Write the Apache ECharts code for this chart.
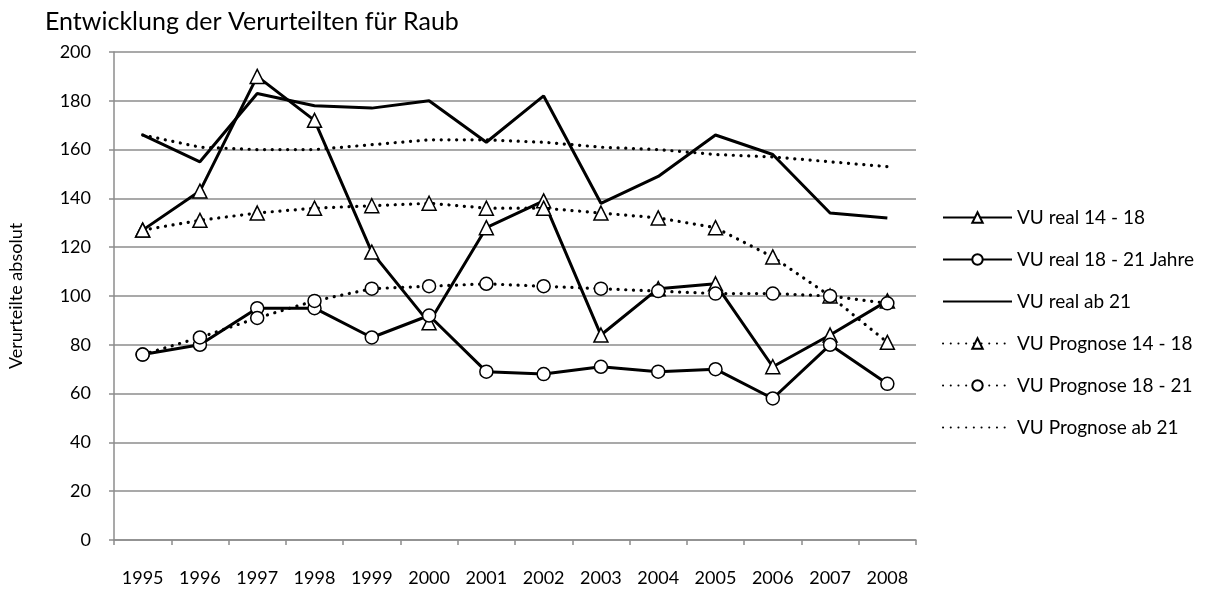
<!DOCTYPE html>
<html>
<head>
<meta charset="utf-8">
<script src="https://cdn.jsdelivr.net/npm/echarts@6/dist/echarts.min.js"></script>
<style>
  html, body { margin: 0; padding: 0; background: #fff; }
  #chart { width: 1232px; height: 598px; }
</style>
</head>
<body>
<div id="chart"></div>
<script>
"use strict";

/* ── Daten ── */
const years = ["1995", "1996", "1997", "1998", "1999", "2000", "2001", "2002", "2003", "2004", "2005", "2006", "2007", "2008"];
const real1418  = [127, 143, 190, 172, 118, 89, 128, 139, 84, 103, 105, 71, 84, 98];
const real1821  = [76, 80, 95, 95, 83, 92, 69, 68, 71, 69, 70, 58, 80, 64];
const realAb21  = [166, 155, 183, 178, 177, 180, 163, 182, 138, 149, 166, 158, 134, 132];
const prog1418  = [127, 131, 134, 136, 137, 138, 136, 136, 134, 132, 128, 116, 100, 81];
const prog1821  = [76, 83, 91, 98, 103, 104, 105, 104, 103, 102, 101, 101, 100, 97];
const progAb21  = [166, 161, 160, 160, 162, 164, 164, 163, 161, 160, 158, 157, 155, 153];
const yTicks    = [0, 20, 40, 60, 80, 100, 120, 140, 160, 180, 200];

const FONT = "Lato, 'Open Sans', sans-serif";
const GRAY = "#8c8c8c";

// 实线系列；symbol 为 none 时把图例里的默认圆点藏掉
function solid(name, data, symbol) {
  return {
    name, type: "line", data,
    symbol: symbol || "none", symbolSize: symbol === "triangle" ? 14 : 13,
    showAllSymbol: true,
    lineStyle: { color: "#000", width: 3 },
    itemStyle: { color: "#fff", borderColor: "#000", borderWidth: 1.5, opacity: symbol ? 1 : 0 },
    emphasis: { disabled: true }
  };
}

// 点线系列
function dotted(name, data, symbol) {
  return {
    name, type: "line", data,
    symbol: symbol || "none", symbolSize: symbol === "triangle" ? 14 : 13,
    showAllSymbol: true,
    lineStyle: { color: "#000", width: 3.2, type: [0.1, 7.6], cap: "round" },
    itemStyle: { color: "#fff", borderColor: "#000", borderWidth: 1.5, opacity: symbol ? 1 : 0 },
    emphasis: { disabled: true }
  };
}

const chart = echarts.init(document.getElementById("chart"));

chart.setOption({
  animation: false,
  backgroundColor: "#fff",
  textStyle: { fontFamily: FONT },
  title: {
    text: "Entwicklung der Verurteilten für Raub",
    left: 45, top: 9, padding: 0,
    textStyle: { fontFamily: FONT, fontSize: 25, fontWeight: "normal", color: "#000" }
  },
  legend: {
    orient: "vertical",
    left: 942, top: 208, padding: 0,
    itemWidth: 69, itemHeight: 13, itemGap: 23,
    textStyle: { fontFamily: FONT, fontSize: 19, color: "#000" },
    selectedMode: false,
    data: ["VU real 14 - 18", "VU real 18 - 21 Jahre", "VU real ab 21",
           "VU Prognose 14 - 18", "VU Prognose 18 - 21", "VU Prognose ab 21"]
  },
  grid: { left: 114, right: 316, top: 52, bottom: 58, outerBoundsMode: "none" },
  xAxis: {
    type: "category", data: years, boundaryGap: true,
    axisLine: { lineStyle: { color: GRAY, width: 1.5 } },
    axisTick: { show: true, length: 5, lineStyle: { color: GRAY, width: 1.5 } },
    axisLabel: { fontFamily: FONT, fontSize: 18, color: "#000", margin: 29, interval: 0 }
  },
  yAxis: {
    type: "value", min: yTicks[0], max: yTicks[yTicks.length - 1], interval: 20,
    name: "Verurteilte absolut", nameLocation: "middle", nameGap: 89,
    nameTextStyle: { fontFamily: FONT, fontSize: 18, color: "#000" },
    axisLine: { show: true, lineStyle: { color: GRAY, width: 1.5 } },
    axisTick: { show: true, length: 5, lineStyle: { color: GRAY, width: 1.5 } },
    axisLabel: { fontFamily: FONT, fontSize: 18, color: "#000", margin: 23 },
    splitLine: { lineStyle: { color: GRAY, width: 1.5 } }
  },
  series: [
    solid("VU real 14 - 18", real1418, "triangle"),
    solid("VU real 18 - 21 Jahre", real1821, "circle"),
    solid("VU real ab 21", realAb21),
    dotted("VU Prognose 14 - 18", prog1418, "triangle"),
    dotted("VU Prognose 18 - 21", prog1821, "circle"),
    dotted("VU Prognose ab 21", progAb21)
  ]
});
</script>
</body>
</html>
